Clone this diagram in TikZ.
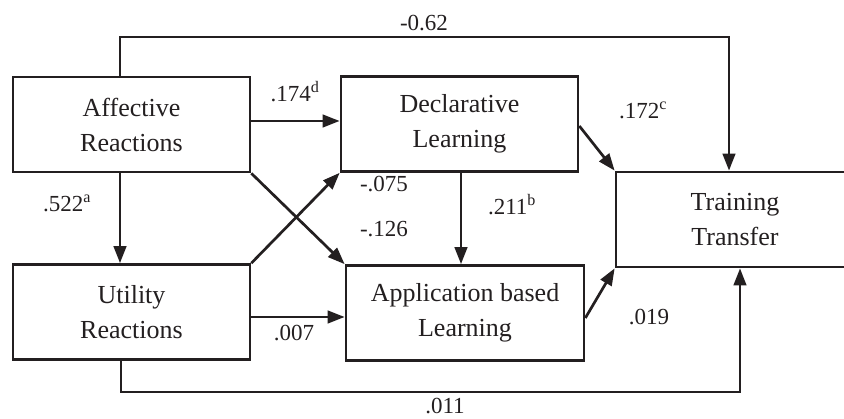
\documentclass[tikz,border=0pt]{standalone}
\usepackage{fontspec}
\setmainfont{Liberation Serif}
\usetikzlibrary{arrows.meta}
\definecolor{ink}{RGB}{35,31,32}
\tikzset{
  box/.style={draw=ink, line width=2.7pt, minimum width=237pt, minimum height=95pt, inner sep=0pt, align=center, text=ink, font=\fontsize{26}{35}\selectfont},
  arr/.style={draw=ink, line width=2.7pt, -{Triangle[length=17pt,width=12.5pt]}},
  lab/.style={text=ink, inner sep=0pt, font=\fontsize{23}{27}\selectfont}
}
\begin{document}
\begin{tikzpicture}[x=1pt,y=-1pt]
\path[use as bounding box, clip] (0,0) rectangle (844,419);
\node[box] (aff) at (131.5,124.5) {Affective\\Reactions};
\node[box] (util) at (131.5,312) {Utility\\Reactions};
\node[box] (decl) at (459.5,124) {Declarative\\Learning};
\node[box, minimum width=238pt] (app) at (465,313) {Application based\\Learning};
\node[box, minimum width=238pt] (train) at (735,219.5) {Training\\Transfer};
\coordinate (topL) at (120,37);
\coordinate (topR) at (729,37);
\coordinate (botL) at (121,392);
\coordinate (botR) at (740,392);
\coordinate (ax) at (120,0);
\coordinate (dx) at (461,0);
\coordinate (ay) at (0,121);
\coordinate (uy) at (0,317);
\coordinate (dy) at (0,126);
\coordinate (py) at (0,318);
\draw[arr] (aff.north -| topL) -- (topL) -- (topR) -- (train.north -| topR);
\draw[arr] (util.south -| botL) -- (botL) -- (botR) -- (train.south -| botR);
\draw[arr] (aff.south -| ax) -- (util.north -| ax);
\draw[arr] (aff.east |- ay) -- (decl.west |- ay);
\draw[arr] (aff.south east) -- (app.north west);
\draw[arr] (util.north east) -- (decl.south west);
\draw[arr] (util.east |- uy) -- (app.west |- uy);
\draw[arr] (decl.south -| dx) -- (app.north -| dx);
\draw[arr] (decl.east |- dy) -- (train.north west);
\draw[arr] (app.east |- py) -- (train.south west);
\node[lab] (l1) at (424,23) {-0.62};
\node[lab] (l2) at (295,92) {.174\textsuperscript{d}};
\node[lab] (l3) at (643,110) {.172\textsuperscript{c}};
\node[lab] (l4) at (67,203) {.522\textsuperscript{a}};
\node[lab] (l5) at (384,184) {-.075};
\node[lab] (l6) at (384,229) {-.126};
\node[lab] (l7) at (512,205) {.211\textsuperscript{b}};
\node[lab] (l8) at (294,333) {.007};
\node[lab] (l9) at (649,317) {.019};
\node[lab] (l10) at (445,406) {.011};
\end{tikzpicture}
\end{document}
